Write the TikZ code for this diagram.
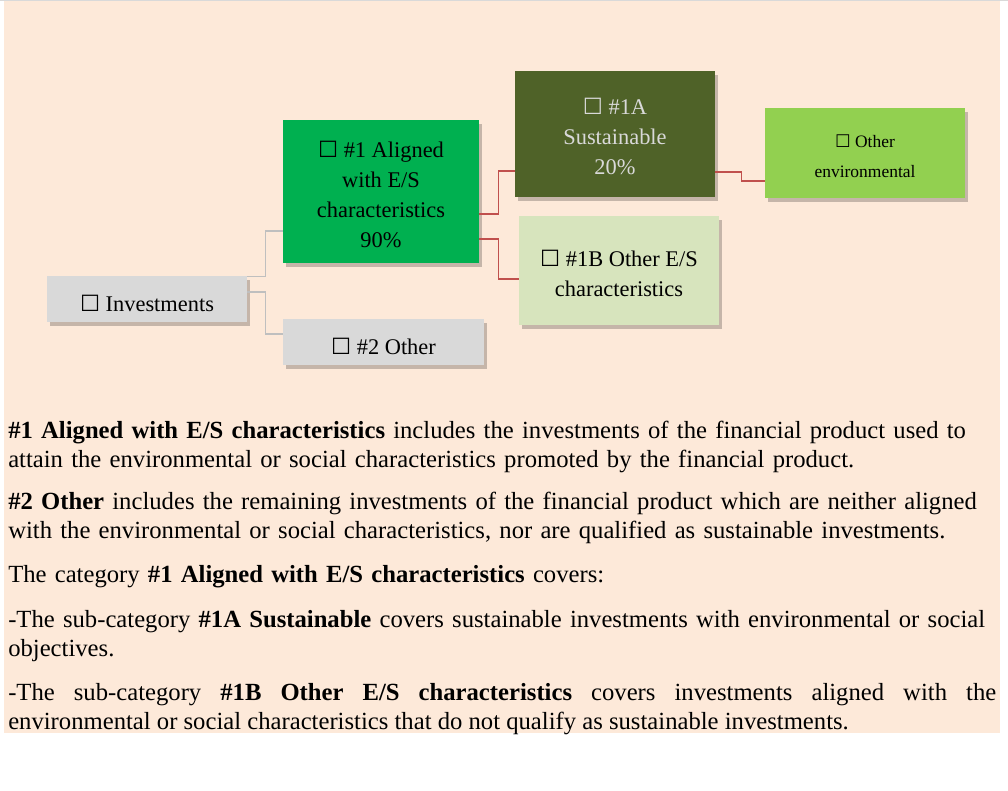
\documentclass[tikz,border=0pt]{standalone}
\usepackage{fontspec}
\setmainfont{Liberation Serif}
\newfontfamily\symfont{DejaVu Sans}
\usetikzlibrary{calc, positioning, shadows}
\definecolor{peachbg}{HTML}{FDE9D9}
\definecolor{greybox}{HTML}{D9D9D9}
\definecolor{alignedgreen}{HTML}{00B050}
\definecolor{olivedark}{HTML}{4F6228}
\definecolor{olivelight}{HTML}{D7E4BD}
\definecolor{envgreen}{HTML}{92D050}
\definecolor{linkred}{HTML}{C0504D}
\definecolor{linkgrey}{HTML}{BFBFBF}
\newcommand{\ckbox}{{\symfont ☐}}
\newcommand{\topstrut}[1]{\rule{0pt}{#1}}
\newcommand{\boxfont}{\fontsize{16.8pt}{22.5pt}\selectfont}
\newcommand{\bodyfont}{\fontsize{18.5pt}{21.75pt}\selectfont}
\tikzset{
  catbox/.style={draw=none, align=center, inner sep=0pt, font=\boxfont,
    drop shadow={shadow xshift=2pt, shadow yshift=-3pt, fill=black, opacity=0.22}},
  onelinebox/.style={catbox, text height=18.5pt, text depth=0pt},
  greyline/.style={draw=linkgrey, line width=1.1pt},
  redline/.style={draw=linkred, line width=1.1pt},
  para/.style={anchor=base west, inner sep=0pt, text width=760pt, font=\bodyfont}
}

\begin{document}
\begin{tikzpicture}[x=0.75pt, y=-0.75pt]
  \useasboundingbox (0,0) rectangle (1008,790);
  % Page background
  \fill[peachbg] (4,1) rectangle (1000,733);
  \draw[greybox, line width=0.9pt] (0,0.6) -- (1008,0.6);

  % Category boxes
  \node[onelinebox, fill=greybox, minimum width=150pt, minimum height=34.5pt] (inv) at (147,299) {\ckbox{} Investments};
  \node[catbox, fill=alignedgreen, minimum width=147pt, minimum height=107.25pt] (al) at (381,191.5) {\topstrut{16pt}\ckbox{} \#1 Aligned\\with E/S\\characteristics\\90\%};
  \node[onelinebox, fill=greybox, minimum width=150.75pt, minimum height=34.5pt] (oth) at (383.5,342) {\ckbox{} \#2 Other};
  \node[catbox, fill=olivedark, text=greybox, minimum width=150pt, minimum height=94.5pt] (sus) at (615,134) {\topstrut{16pt}\ckbox{} \#1A\\Sustainable\\20\%};
  \node[catbox, fill=olivelight, minimum width=150pt, minimum height=81.75pt] (oes) at (619,270.5) {\topstrut{16pt}\ckbox{} \#1B Other E/S\\characteristics};
  \node[catbox, fill=envgreen, minimum width=150pt, minimum height=67.5pt,
    font=\fontsize{13.1pt}{22.5pt}\selectfont] (env) at (865,153) {\topstrut{14.5pt}\ckbox{} Other\\environmental};

  % Elbow links
  \draw[greyline] ($(inv.north east)+(0,1)$) -- ++(18,0) |- ($(al.west)+(0,39.5)$);
  \draw[greyline] ($(inv.east)+(0,-7)$) -- ++(18,0) |- ($(oth.west)+(0,-8)$);
  \draw[redline] ($(al.east)+(0,22.5)$) -- ++(19,0) |- ($(sus.west)+(0,37)$);
  \draw[redline] ($(al.east)+(0,47.5)$) -- ++(19,0) |- ($(oes.west)+(0,8.5)$);
  \draw[redline] ($(sus.east)+(0,38)$) -- ++(26,0) |- ($(env.west)+(0,28)$);

  % Explanatory text
  \node[para, align=left] (p1) at (8,438) {\textbf{\#1 Aligned with E/S characteristics} includes the investments of the financial product used to\\attain the environmental or social characteristics promoted by the financial product.};
  \node[para, align=left] (p2) at (8,509) {\textbf{\#2 Other} includes the remaining investments of the financial product which are neither aligned\\with the environmental or social characteristics, nor are qualified as sustainable investments.};
  \node[para, align=left] (p3) at (8,582) {The category \textbf{\#1 Aligned with E/S characteristics} covers:};
  \node[para, align=left] (p4) at (8,627) {-The sub-category \textbf{\#1A Sustainable} covers sustainable investments with environmental or social\\objectives.};
  \node[para, align=justify, text width=741pt] (p5) at (8,700) {-The sub-category \textbf{\#1B Other E/S characteristics} covers investments aligned with the\linebreak environmental or social characteristics that do not qualify as sustainable investments.};
\end{tikzpicture}
\end{document}
